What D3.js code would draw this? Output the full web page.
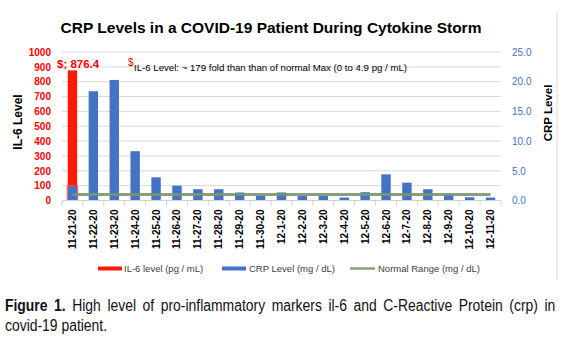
<!DOCTYPE html>
<html><head><meta charset="utf-8">
<script src="https://cdn.jsdelivr.net/npm/d3@7"></script>
<style>
body{margin:0;background:#fff;}
svg{display:block;}
text{font-family:"Liberation Sans",Arial,sans-serif;}
</style></head>
<body><svg id="c" width="573" height="343"></svg>
<script>
const dates = ["11-21-20","11-22-20","11-23-20","11-24-20","11-25-20","11-26-20","11-27-20","11-28-20","11-29-20","11-30-20","12-1-20","12-2-20","12-3-20","12-4-20","12-5-20","12-6-20","12-7-20","12-8-20","12-9-20","12-10-20","12-11-20"];
const il6Values = [876.4,null,null,null,null,null,null,null,null,null,null,null,null,null,null,null,null,null,null,null,null];
const crpValues = [2.4,18.4,20.3,8.3,3.9,2.5,1.9,1.9,1.35,0.85,1.35,0.75,0.75,0.5,1.4,4.4,3.0,1.9,1.1,0.55,0.5];
const normalRange = [1.0,1.0,1.0,1.0,1.0,1.0,1.0,1.0,1.0,1.0,1.0,1.0,1.0,1.0,1.0,1.0,1.0,1.0,1.0,1.0,1.0];
const leftTicks = [0,100,200,300,400,500,600,700,800,900,1000];
const rightTicks = [0,5,10,15,20,25];

const svg = d3.select("#c");
const L = 62, R = 501, T = 52, B = 200.5;
const x = d3.scaleBand().domain(dates).range([L, R]).padding(0);
const yL = d3.scaleLinear().domain([0,1000]).range([B, T]);
const yR = d3.scaleLinear().domain([0,25]).range([B, T]);
const bw = x.bandwidth()*0.45;

// chart border right
svg.append("line").attr("x1",557).attr("x2",557).attr("y1",12).attr("y2",280).attr("stroke","#d9d9d9");

// title
svg.append("text").attr("x",271).attr("y",33).attr("text-anchor","middle")
  .attr("font-size",15.5).attr("font-weight","bold").attr("fill","#000")
  .text("CRP Levels in a COVID-19 Patient During Cytokine Storm");

// gridlines
svg.append("g").selectAll("line").data(leftTicks).join("line")
  .attr("x1",L).attr("x2",R).attr("y1",d=>yL(d)).attr("y2",d=>yL(d))
  .attr("stroke","#d9d9d9").attr("stroke-width",1);

// left axis
const gl = svg.append("g").attr("transform",`translate(${L-11},0)`)
  .call(d3.axisLeft(yL).tickValues(leftTicks).tickSize(0).tickPadding(0).tickFormat(d3.format("d")));
gl.select(".domain").remove();
gl.selectAll("text").attr("fill","#ff0000").attr("font-size",10).attr("font-weight","bold")
  .attr("font-family","Liberation Sans, Arial, sans-serif");

// right axis
const gr = svg.append("g").attr("transform",`translate(${R+11},0)`)
  .call(d3.axisRight(yR).tickValues(rightTicks).tickSize(0).tickPadding(0).tickFormat(d3.format(".1f")));
gr.select(".domain").remove();
gr.selectAll("text").attr("fill","#4472c4").attr("font-size",10)
  .attr("font-family","Liberation Sans, Arial, sans-serif");

// IL-6 bars
svg.append("g").selectAll("rect").data(dates.map((d,i)=>({d,v:il6Values[i]})).filter(o=>o.v!=null)).join("rect")
  .attr("x",o=>x(o.d)+(x.bandwidth()-bw)/2).attr("width",bw)
  .attr("y",o=>yL(o.v)).attr("height",o=>yL(0)-yL(o.v)).attr("fill","#ff1a00");

// CRP bars
svg.append("g").selectAll("rect").data(dates.map((d,i)=>({d,v:crpValues[i]}))).join("rect")
  .attr("x",o=>x(o.d)+(x.bandwidth()-bw)/2).attr("width",bw)
  .attr("y",o=>yR(o.v)).attr("height",o=>yR(0)-yR(o.v)).attr("fill","#4472c4");
// highlight outline on first CRP bar
svg.append("rect").attr("x",x(dates[0])+(x.bandwidth()-bw)/2-0.5).attr("width",bw+1)
  .attr("y",yR(crpValues[0])-0.5).attr("height",yR(0)-yR(crpValues[0])+0.5)
  .attr("fill","none").attr("stroke","#ff5050").attr("stroke-width",1);

// normal range line
svg.append("path").datum(dates.map((d,i)=>({d,v:normalRange[i]})))
  .attr("d",d3.line().x(o=>x(o.d)+x.bandwidth()/2).y(o=>yR(o.v)))
  .attr("fill","none").attr("stroke","#7a9570").attr("stroke-opacity",0.9).attr("stroke-width",3);

// x axis
svg.append("line").attr("x1",L).attr("x2",R).attr("y1",B).attr("y2",B).attr("stroke","#d0d0d0");
svg.append("g").selectAll("line").data(d3.range(dates.length+1)).join("line")
  .attr("x1",i=>L+i*x.step()).attr("x2",i=>L+i*x.step()).attr("y1",B).attr("y2",B+5).attr("stroke","#d0d0d0");
svg.append("g").selectAll("text").data(dates).join("text")
  .attr("transform",d=>`translate(${x(d)+x.bandwidth()/2+3.5},${B+9}) rotate(-90)`)
  .attr("text-anchor","end").attr("font-size",10).attr("font-weight","bold").attr("fill","#000")
  .text(d=>d);

// axis titles
svg.append("text").attr("transform","translate(22,122) rotate(-90)").attr("text-anchor","middle")
  .attr("font-size",12).attr("font-weight","bold").text("IL-6 Level");
svg.append("text").attr("transform","translate(552,113) rotate(-90)").attr("text-anchor","middle")
  .attr("font-size",11.5).attr("font-weight","bold").text("CRP Level");

// annotations
svg.append("text").attr("x",57).attr("y",67.5).attr("font-size",11.5).attr("font-weight","bold")
  .attr("fill","#ff0000").text("$; " + il6Values[0]);
svg.append("text").attr("x",128).attr("y",66).attr("font-size",10).attr("fill","#ff0000").text("$");
svg.append("text").attr("x",134).attr("y",71).attr("font-size",8.6).attr("fill","#000")
  .attr("textLength",273).attr("lengthAdjust","spacingAndGlyphs")
  .text("IL-6 Level:  ~ 179 fold than than of normal Max (0 to 4.9 pg / mL)");

// legend
const lg = svg.append("g");
lg.append("rect").attr("x",98).attr("y",266.5).attr("width",24).attr("height",4).attr("fill","#ff1a00");
lg.append("text").attr("x",124).attr("y",272).attr("font-size",9.5).attr("fill","#404040").text("IL-6 level (pg / mL)");
lg.append("rect").attr("x",222).attr("y",266.5).attr("width",24).attr("height",4).attr("fill","#4472c4");
lg.append("text").attr("x",249).attr("y",272).attr("font-size",9.5).attr("fill","#404040").text("CRP Level (mg / dL)");
lg.append("line").attr("x1",350).attr("x2",375).attr("y1",268.5).attr("y2",268.5).attr("stroke","#8ca082").attr("stroke-width",2.5);
lg.append("text").attr("x",378).attr("y",272).attr("font-size",9.5).attr("fill","#404040").text("Normal Range (mg / dL)");

// caption (condensed, justified first line)
const sx = 0.87;
const capG = svg.append("g").attr("transform",`translate(5,0) scale(${sx},1)`);
const cap = capG.append("text").attr("x",0).attr("y",311).attr("font-size",16).attr("fill","#111");
cap.append("tspan").attr("font-weight","bold").text("Figure 1.");
cap.append("tspan").text(" High level of pro-inflammatory markers il-6 and C-Reactive Protein (crp) in");
const nat = cap.node().getComputedTextLength();
const spaces = 13;
cap.attr("word-spacing", Math.max(0,(553/sx-nat)/spaces));
capG.append("text").attr("x",0).attr("y",331).attr("font-size",16).attr("fill","#111")
  .text("covid-19 patient.");
</script></body></html>
